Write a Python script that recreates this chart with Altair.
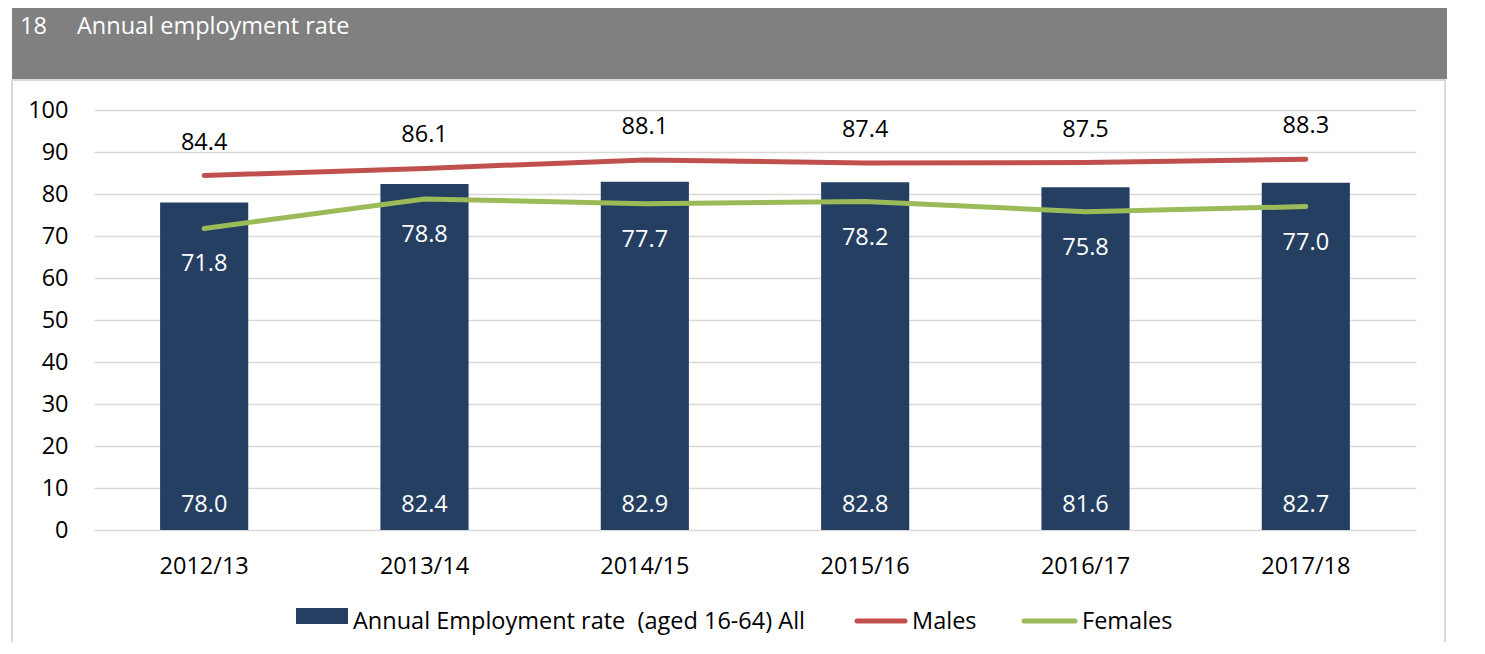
import altair as alt
import pandas as pd

# ---- data ----
years = ["2012/13", "2013/14", "2014/15", "2015/16", "2016/17", "2017/18"]
all_rate = [78.0, 82.4, 82.9, 82.8, 81.6, 82.7]
males = [84.4, 86.1, 88.1, 87.4, 87.5, 88.3]
females = [71.8, 78.8, 77.7, 78.2, 75.8, 77.0]
y_ticks = [0, 10, 20, 30, 40, 50, 60, 70, 80, 90, 100]
title_num = "18"
title_text = "Annual employment rate"
legend_labels = ["Annual Employment rate \u00a0(aged 16-64) All", "Males", "Females"]

df = pd.DataFrame({"year": years, "all": all_rate, "males": males, "females": females})
one = pd.DataFrame({"k": [0]})

FONT = "Open Sans"
FS = 23.5
BAR = "#253F62"
RED = "#C0504D"
GREEN = "#9BBB59"
GRID = "#d9d9d9"

x = alt.X(
    "year:N",
    sort=years,
    scale=alt.Scale(paddingInner=0.6, paddingOuter=0.3),
    axis=alt.Axis(title=None, labelAngle=0, labelFont=FONT, labelFontSize=FS,
                  labelColor="black", labelPadding=24, ticks=False, domain=False,
                  grid=False),
)
y_scale = alt.Scale(domain=[0, 100], nice=False, zero=True)
y_axis = alt.Axis(title=None, values=y_ticks, labelFont=FONT, labelFontSize=FS,
                  labelColor="black", labelPadding=26, ticks=False, domain=False,
                  grid=True, gridColor=GRID, gridWidth=1.5)

# ---- decorations ----
panel = alt.Chart(one).mark_rect(filled=False, stroke=GRID, strokeWidth=2).encode(
    x=alt.value(-82), x2=alt.value(1351), y=alt.value(-30), y2=alt.value(560))
title_bar = alt.Chart(one).mark_rect(fill="#808080").encode(
    x=alt.value(-82), x2=alt.value(1353), y=alt.value(-106), y2=alt.value(-31))
title_style = dict(font=FONT, fontSize=23.5, color="white", align="left",
                   baseline="alphabetic")
t1 = alt.Chart(one).mark_text(**title_style).encode(
    x=alt.value(-74), y=alt.value(-76.5), text=alt.value(title_num))
t2 = alt.Chart(one).mark_text(**title_style).encode(
    x=alt.value(-17), y=alt.value(-76.5), text=alt.value(title_text))

# ---- data marks ----
base = alt.Chart(df)
bars = base.mark_bar(color=BAR).encode(
    x=x, y=alt.Y("all:Q", scale=y_scale, axis=y_axis))
line_m = base.mark_line(color=RED, strokeWidth=5, strokeCap="round").encode(
    x=x, y=alt.Y("males:Q", scale=y_scale, axis=y_axis))
line_f = base.mark_line(color=GREEN, strokeWidth=5, strokeCap="round").encode(
    x=x, y=alt.Y("females:Q", scale=y_scale, axis=y_axis))

lab_all = base.mark_text(font=FONT, fontSize=FS, color="white", baseline="middle",
                         dy=-25).encode(
    x=x, y=alt.datum(0), text=alt.Text("all:Q", format=".1f"))
lab_m = base.mark_text(font=FONT, fontSize=FS, color="black", baseline="middle",
                       dy=-33).encode(
    x=x, y=alt.Y("males:Q", scale=y_scale, axis=y_axis),
    text=alt.Text("males:Q", format=".1f"))
lab_f = base.mark_text(font=FONT, fontSize=FS, color="white", baseline="middle",
                       dy=36).encode(
    x=x, y=alt.Y("females:Q", scale=y_scale, axis=y_axis),
    text=alt.Text("females:Q", format=".1f"))

# ---- legend ----
leg_sw = alt.Chart(one).mark_rect(fill=BAR).encode(
    x=alt.value(202), x2=alt.value(254), y=alt.value(498), y2=alt.value(514))
leg_m = alt.Chart(one).mark_rule(color=RED, strokeWidth=5, strokeCap="round").encode(
    x=alt.value(763), x2=alt.value(811), y=alt.value(511))
leg_f = alt.Chart(one).mark_rule(color=GREEN, strokeWidth=5, strokeCap="round").encode(
    x=alt.value(930), x2=alt.value(981), y=alt.value(511))
leg_txt_style = dict(font=FONT, fontSize=FS, color="black", align="left", baseline="middle")
lt1 = alt.Chart(one).mark_text(**leg_txt_style).encode(
    x=alt.value(259), y=alt.value(512), text=alt.value(legend_labels[0]))
lt2 = alt.Chart(one).mark_text(**leg_txt_style).encode(
    x=alt.value(818), y=alt.value(512), text=alt.value(legend_labels[1]))
lt3 = alt.Chart(one).mark_text(**leg_txt_style).encode(
    x=alt.value(988), y=alt.value(512), text=alt.value(legend_labels[2]))

chart = alt.layer(
    panel, title_bar, t1, t2, bars, line_m, line_f, lab_all, lab_m, lab_f,
    leg_sw, leg_m, leg_f, lt1, lt2, lt3,
).properties(
    width=1322, height=420,
    autosize=alt.AutoSizeParams(type="none"),
    padding={"left": 86, "top": 102, "right": 40, "bottom": 112},
).configure_view(stroke=None)

chart.save("out.html", embed_options={"renderer": "svg", "actions": False})
